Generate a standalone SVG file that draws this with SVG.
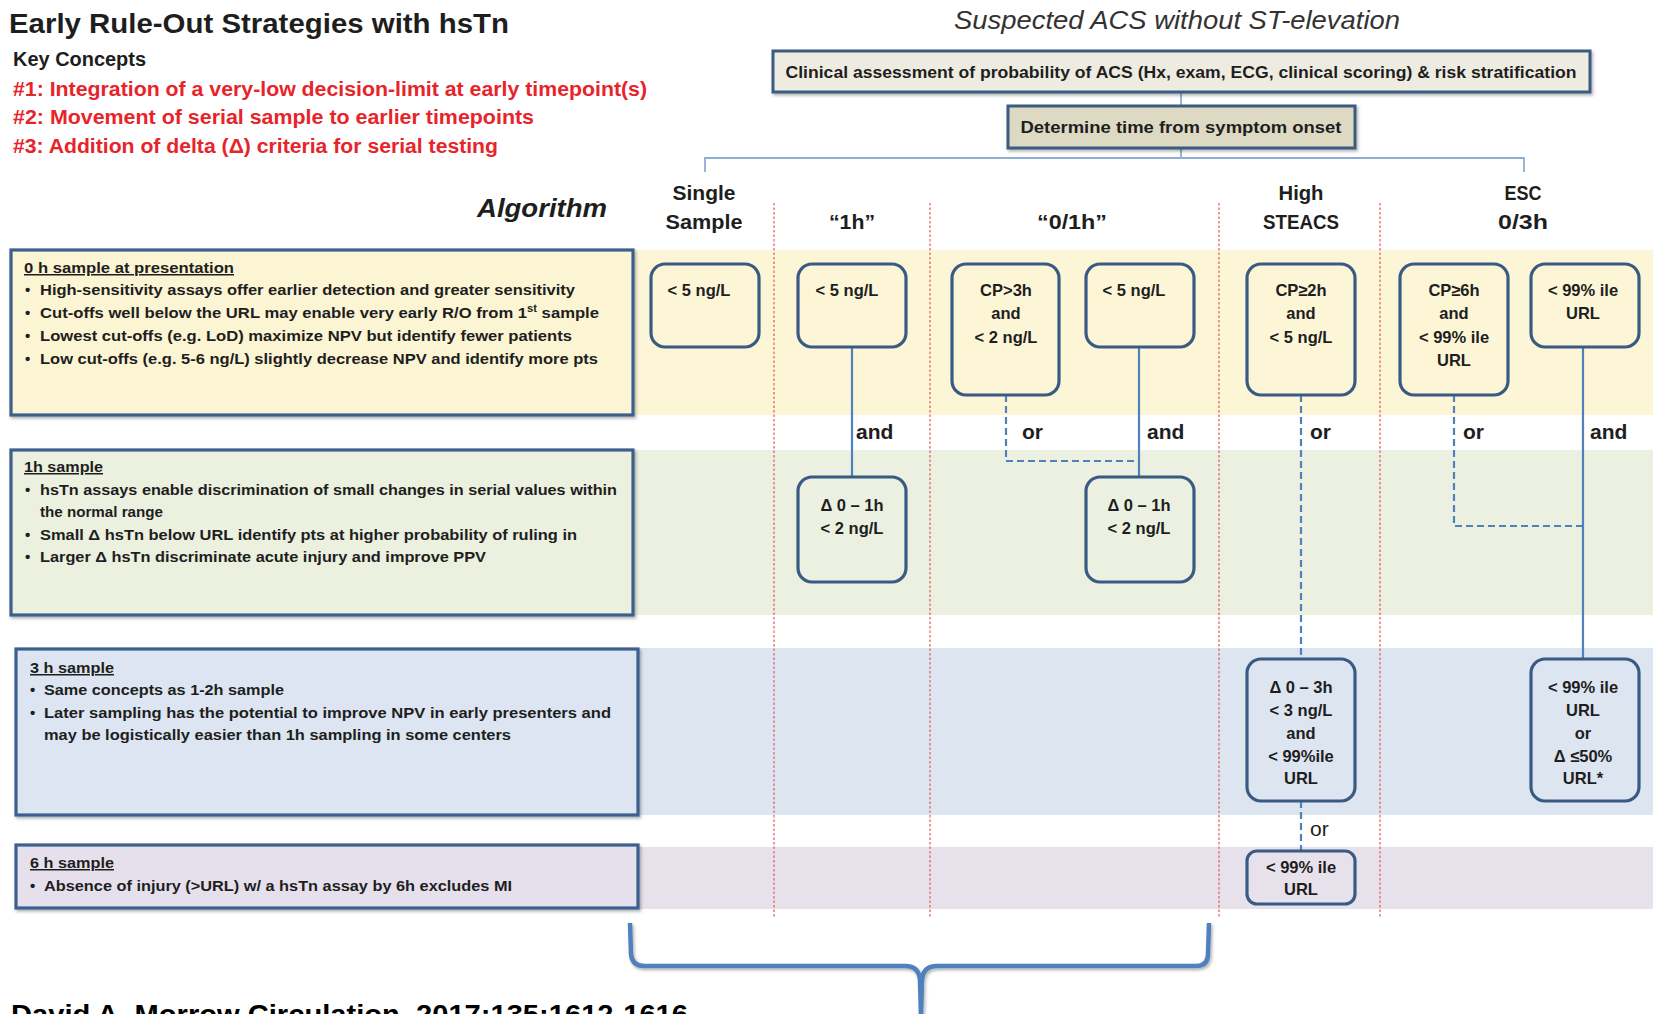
<svg xmlns="http://www.w3.org/2000/svg" width="1653" height="1014" viewBox="0 0 1653 1014">
<defs>
<filter id="sh" x="-5%" y="-5%" width="110%" height="130%">
<feDropShadow dx="1.5" dy="2" stdDeviation="1.5" flood-color="#000" flood-opacity="0.3"/>
</filter>
<style>
text{font-family:"Liberation Sans",Arial,sans-serif;fill:#1e1e1e}
.b{font-weight:bold}
.red{fill:#e8242b;font-weight:bold;font-size:20px}
.hdr{font-weight:bold;font-size:20px;text-anchor:middle}
.lbl{font-weight:bold;font-size:15px}
.nd{font-weight:bold;font-size:16.5px;text-anchor:middle}
.conn{font-weight:bold;font-size:21px}
.node{stroke:#395b83;stroke-width:3.2}
.lbox{stroke:#3d5f8e;stroke-width:3.2}
.sep{stroke:#e26666;stroke-width:1.3;stroke-dasharray:2.5 2}
.solid{stroke:#4f81bd;stroke-width:2.2;fill:none}
.dash{stroke:#4f81bd;stroke-width:2.2;fill:none;stroke-dasharray:7 4}
.tree{stroke:#8eaed6;stroke-width:1.8;fill:none}
</style>
</defs>
<rect width="1653" height="1014" fill="#ffffff"/>

<!-- background bands -->
<g id="bands">
<rect x="630" y="250" width="1023" height="165" fill="#fcf6d7"/>
<rect x="630" y="450" width="1023" height="165" fill="#ebf0e1"/>
<rect x="630" y="648" width="1023" height="167" fill="#dde5f0"/>
<rect x="630" y="847" width="1023" height="62" fill="#e7e1ec"/>
</g>

<!-- column separators -->
<g id="separators">
<line class="sep" x1="774" y1="203" x2="774" y2="917"/>
<line class="sep" x1="930" y1="203" x2="930" y2="917"/>
<line class="sep" x1="1219" y1="203" x2="1219" y2="917"/>
<line class="sep" x1="1380" y1="203" x2="1380" y2="917"/>
</g>

<!-- header -->
<g id="header">
<text x="9" y="33" class="b" font-size="28" textLength="500" lengthAdjust="spacingAndGlyphs">Early Rule-Out Strategies with hsTn</text>
<text x="13" y="66" class="b" font-size="20" textLength="133" lengthAdjust="spacingAndGlyphs">Key Concepts</text>
<text x="13" y="96" class="red" textLength="634" lengthAdjust="spacingAndGlyphs">#1: Integration of a very-low decision-limit at early timepoint(s)</text>
<text x="13" y="124" class="red" textLength="521" lengthAdjust="spacingAndGlyphs">#2: Movement of serial sample to earlier timepoints</text>
<text x="13" y="153" class="red" textLength="485" lengthAdjust="spacingAndGlyphs">#3: Addition of delta (Δ) criteria for serial testing</text>
<text x="1177" y="29" font-size="26" font-style="italic" text-anchor="middle" textLength="446" lengthAdjust="spacingAndGlyphs" style="fill:#333">Suspected ACS without ST-elevation</text>
<text x="477" y="217" class="b" font-size="26" font-style="italic" textLength="130" lengthAdjust="spacingAndGlyphs">Algorithm</text>
</g>

<!-- connectors -->
<g id="connectors">
<path class="tree" d="M1181,92 V106 M1181,148 V158 M705,172 V158 H1524 V172"/>
<line class="solid" x1="852" y1="347" x2="852" y2="477"/>
<path class="dash" d="M1006,395 V461 H1139"/>
<line class="solid" x1="1139" y1="347" x2="1139" y2="477"/>
<line class="dash" x1="1301" y1="395" x2="1301" y2="659"/>
<line class="dash" x1="1301" y1="801" x2="1301" y2="851"/>
<path class="dash" d="M1454,395 V526 H1583"/>
<line class="solid" x1="1583" y1="347" x2="1583" y2="659"/>
<text x="856" y="439" class="conn">and</text>
<text x="1022" y="439" class="conn">or</text>
<text x="1147" y="439" class="conn">and</text>
<text x="1310" y="439" class="conn">or</text>
<text x="1463" y="439" class="conn">or</text>
<text x="1590" y="439" class="conn">and</text>
<text x="1310" y="836" font-size="21">or</text>
<path d="M630,923 L631,954 Q632,966 644,966 L905,966 Q919,966 920,980 L921,1016 M921,1016 L922,980 Q923,966 937,966 L1196,966 Q1208,966 1208,954 L1209,923" fill="none" stroke="#4f81bd" stroke-width="4.5" filter="url(#sh)"/>
</g>

<!-- top boxes -->
<g id="clinical">
<rect x="773" y="51" width="817" height="41" fill="#eeece1" stroke="#3b5b80" stroke-width="3" filter="url(#sh)"/>
<text x="1181" y="78" class="b" font-size="17" text-anchor="middle" textLength="791" lengthAdjust="spacingAndGlyphs">Clinical assessment of probability of ACS (Hx, exam, ECG, clinical scoring) &amp; risk stratification</text>
</g>
<g id="determine">
<rect x="1008" y="106" width="347" height="42" fill="#ddd9c3" stroke="#3b5b80" stroke-width="3" filter="url(#sh)"/>
<text x="1181" y="133" class="b" font-size="17" text-anchor="middle" textLength="321" lengthAdjust="spacingAndGlyphs">Determine time from symptom onset</text>
</g>

<!-- column headers -->
<g id="col-single"><text x="704" y="200" class="hdr" textLength="63" lengthAdjust="spacingAndGlyphs">Single</text><text x="704" y="229" class="hdr" textLength="77" lengthAdjust="spacingAndGlyphs">Sample</text></g>
<g id="col-1h"><text x="852" y="229" class="hdr" textLength="46" lengthAdjust="spacingAndGlyphs">“1h”</text></g>
<g id="col-01h"><text x="1072" y="229" class="hdr" textLength="70" lengthAdjust="spacingAndGlyphs">“0/1h”</text></g>
<g id="col-steacs"><text x="1301" y="200" class="hdr" textLength="45" lengthAdjust="spacingAndGlyphs">High</text><text x="1301" y="229" class="hdr" textLength="76" lengthAdjust="spacingAndGlyphs">STEACS</text></g>
<g id="col-esc"><text x="1523" y="200" class="hdr" textLength="37" lengthAdjust="spacingAndGlyphs">ESC</text><text x="1523" y="229" class="hdr" textLength="50" lengthAdjust="spacingAndGlyphs">0/3h</text></g>

<!-- left concept boxes -->
<g id="box-0h">
<rect x="11" y="250" width="622" height="165" fill="#fcf5d4" class="lbox" filter="url(#sh)"/>
<text x="24" y="273" class="lbl" text-decoration="underline" textLength="210" lengthAdjust="spacingAndGlyphs">0 h sample at presentation</text>
<text x="25" y="295" class="lbl">•</text><text x="40" y="295" class="lbl" textLength="535" lengthAdjust="spacingAndGlyphs">High-sensitivity assays offer earlier detection and greater sensitivity</text>
<text x="25" y="318" class="lbl">•</text><text x="40" y="318" class="lbl" textLength="559" lengthAdjust="spacingAndGlyphs">Cut-offs well below the URL may enable very early R/O from 1<tspan font-size="10" dy="-6">st</tspan><tspan dy="6"> sample</tspan></text>
<text x="25" y="341" class="lbl">•</text><text x="40" y="341" class="lbl" textLength="532" lengthAdjust="spacingAndGlyphs">Lowest cut-offs (e.g. LoD) maximize NPV but identify fewer patients</text>
<text x="25" y="364" class="lbl">•</text><text x="40" y="364" class="lbl" textLength="558" lengthAdjust="spacingAndGlyphs">Low cut-offs (e.g. 5-6 ng/L) slightly decrease NPV and identify more pts</text>
</g>
<g id="box-1h">
<rect x="11" y="450" width="622" height="165" fill="#ebf0df" class="lbox" filter="url(#sh)"/>
<text x="24" y="472" class="lbl" text-decoration="underline" textLength="79" lengthAdjust="spacingAndGlyphs">1h sample</text>
<text x="25" y="495" class="lbl">•</text><text x="40" y="495" class="lbl" textLength="577" lengthAdjust="spacingAndGlyphs">hsTn assays enable discrimination of small changes in serial values within</text>
<text x="40" y="517" class="lbl" textLength="123" lengthAdjust="spacingAndGlyphs">the normal range</text>
<text x="25" y="540" class="lbl">•</text><text x="40" y="540" class="lbl" textLength="537" lengthAdjust="spacingAndGlyphs">Small Δ hsTn below URL identify pts at higher probability of ruling in</text>
<text x="25" y="562" class="lbl">•</text><text x="40" y="562" class="lbl" textLength="446" lengthAdjust="spacingAndGlyphs">Larger Δ hsTn discriminate acute injury and improve PPV</text>
</g>
<g id="box-3h">
<rect x="16" y="649" width="622" height="166" fill="#dce5f1" class="lbox" filter="url(#sh)"/>
<text x="30" y="673" class="lbl" text-decoration="underline" textLength="84" lengthAdjust="spacingAndGlyphs">3 h sample</text>
<text x="30" y="695" class="lbl">•</text><text x="44" y="695" class="lbl" textLength="240" lengthAdjust="spacingAndGlyphs">Same concepts as 1-2h sample</text>
<text x="30" y="718" class="lbl">•</text><text x="44" y="718" class="lbl" textLength="567" lengthAdjust="spacingAndGlyphs">Later sampling has the potential to improve NPV in early presenters and</text>
<text x="44" y="740" class="lbl" textLength="467" lengthAdjust="spacingAndGlyphs">may be logistically easier than 1h sampling in some centers</text>
</g>
<g id="box-6h">
<rect x="16" y="845" width="622" height="63" fill="#e6e0ec" class="lbox" filter="url(#sh)"/>
<text x="30" y="868" class="lbl" text-decoration="underline" textLength="84" lengthAdjust="spacingAndGlyphs">6 h sample</text>
<text x="30" y="891" class="lbl">•</text><text x="44" y="891" class="lbl" textLength="468" lengthAdjust="spacingAndGlyphs">Absence of injury (&gt;URL) w/ a hsTn assay by 6h excludes MI</text>
</g>

<!-- algorithm nodes -->
<g id="n-single-0h"><rect x="651" y="264" width="108" height="83" rx="14" fill="#fcf6d7" class="node"/><text x="699" y="296" class="nd">&lt; 5 ng/L</text></g>
<g id="n-1h-0h"><rect x="798" y="264" width="108" height="83" rx="14" fill="#fcf6d7" class="node"/><text x="847" y="296" class="nd">&lt; 5 ng/L</text></g>
<g id="n-01h-cp"><rect x="952" y="264" width="107" height="131" rx="14" fill="#fcf6d7" class="node"/><text x="1006" y="296" class="nd">CP&gt;3h</text><text x="1006" y="319" class="nd">and</text><text x="1006" y="343" class="nd">&lt; 2 ng/L</text></g>
<g id="n-01h-0h"><rect x="1086" y="264" width="108" height="83" rx="14" fill="#fcf6d7" class="node"/><text x="1134" y="296" class="nd">&lt; 5 ng/L</text></g>
<g id="n-steacs-0h"><rect x="1247" y="264" width="108" height="131" rx="14" fill="#fcf6d7" class="node"/><text x="1301" y="296" class="nd">CP≥2h</text><text x="1301" y="319" class="nd">and</text><text x="1301" y="343" class="nd">&lt; 5 ng/L</text></g>
<g id="n-esc-cp"><rect x="1400" y="264" width="108" height="131" rx="14" fill="#fcf6d7" class="node"/><text x="1454" y="296" class="nd">CP≥6h</text><text x="1454" y="319" class="nd">and</text><text x="1454" y="343" class="nd">&lt; 99% ile</text><text x="1454" y="366" class="nd">URL</text></g>
<g id="n-esc-0h"><rect x="1531" y="264" width="108" height="83" rx="14" fill="#fcf6d7" class="node"/><text x="1583" y="296" class="nd">&lt; 99% ile</text><text x="1583" y="319" class="nd">URL</text></g>
<g id="n-1h-1h"><rect x="798" y="477" width="108" height="105" rx="14" fill="#ebf0e1" class="node"/><text x="852" y="511" class="nd">Δ 0 – 1h</text><text x="852" y="534" class="nd">&lt; 2 ng/L</text></g>
<g id="n-01h-1h"><rect x="1086" y="477" width="108" height="105" rx="14" fill="#ebf0e1" class="node"/><text x="1139" y="511" class="nd">Δ 0 – 1h</text><text x="1139" y="534" class="nd">&lt; 2 ng/L</text></g>
<g id="n-steacs-3h"><rect x="1247" y="659" width="108" height="142" rx="14" fill="#dde5f0" class="node"/><text x="1301" y="693" class="nd">Δ 0 – 3h</text><text x="1301" y="716" class="nd">&lt; 3 ng/L</text><text x="1301" y="739" class="nd">and</text><text x="1301" y="762" class="nd">&lt; 99%ile</text><text x="1301" y="784" class="nd">URL</text></g>
<g id="n-esc-3h"><rect x="1531" y="659" width="108" height="142" rx="14" fill="#dde5f0" class="node"/><text x="1583" y="693" class="nd">&lt; 99% ile</text><text x="1583" y="716" class="nd">URL</text><text x="1583" y="739" class="nd">or</text><text x="1583" y="762" class="nd">Δ ≤50%</text><text x="1583" y="784" class="nd">URL*</text></g>
<g id="n-steacs-6h"><rect x="1247" y="851" width="108" height="53" rx="10" fill="#e7e1ec" class="node"/><text x="1301" y="873" class="nd">&lt; 99% ile</text><text x="1301" y="895" class="nd">URL</text></g>

<!-- citation (cut at the lower edge, as in the reference) -->
<text x="11" y="1024" class="b" font-size="27" textLength="677" lengthAdjust="spacingAndGlyphs" style="fill:#000">David A. Morrow Circulation. 2017;135:1612-1616</text>
</svg>
